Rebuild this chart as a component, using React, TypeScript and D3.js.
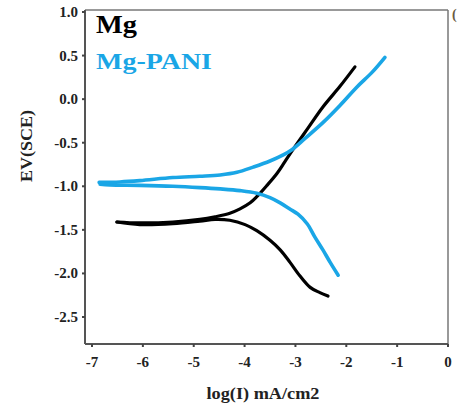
import React from "react";
import * as d3 from "d3";

const xTicks = [-7, -6, -5, -4, -3, -2, -1, 0];
const yTicks = [1.0, 0.5, 0.0, -0.5, -1.0, -1.5, -2.0, -2.5];

// Mg: cathodic branch (from high current back to Ecorr)
const mgCathLogI = [-2.36, -2.52, -2.71, -2.91, -3.11, -3.30, -3.50, -3.76, -3.99, -4.29, -4.58, -4.88, -5.41, -6.06, -6.51];
const mgCathE = [-2.26, -2.22, -2.16, -2.03, -1.87, -1.73, -1.62, -1.51, -1.44, -1.39, -1.38, -1.40, -1.43, -1.44, -1.41];
// Mg: anodic branch
const mgAnLogI = [-6.51, -6.06, -5.41, -4.88, -4.58, -4.29, -4.09, -3.89, -3.76, -3.56, -3.36, -3.21, -3.05, -2.75, -2.46, -2.12, -1.83];
const mgAnE = [-1.41, -1.42, -1.41, -1.38, -1.35, -1.31, -1.26, -1.19, -1.12, -0.99, -0.85, -0.72, -0.58, -0.33, -0.09, 0.15, 0.37];

// Mg-PANI: cathodic branch
const paniCathLogI = [-2.16, -2.32, -2.46, -2.62, -2.77, -2.95, -3.11, -3.30, -3.50, -3.76, -4.09, -4.48, -4.88, -5.41, -6.06, -6.65, -6.84];
const paniCathE = [-2.02, -1.87, -1.73, -1.58, -1.43, -1.32, -1.26, -1.19, -1.13, -1.08, -1.05, -1.03, -1.015, -1.0, -0.99, -0.985, -0.975];
// Mg-PANI: anodic branch
const paniAnLogI = [-6.86, -6.45, -6.06, -5.41, -4.88, -4.48, -4.15, -3.83, -3.50, -3.24, -3.07, -2.81, -2.46, -2.12, -1.79, -1.49, -1.24];
const paniAnE = [-0.955, -0.95, -0.935, -0.90, -0.885, -0.87, -0.84, -0.78, -0.71, -0.64, -0.58, -0.45, -0.27, -0.07, 0.14, 0.31, 0.48];

const seriesNames = ["Mg", "Mg-PANI"];
const colors = ["#000000", "#1aa6e6"];

export default function App() {
  const left = 85, right = 448, top = 10, bottom = 344;
  const x = d3.scaleLinear().domain([-7.138, 0]).range([left, right]);
  const y = d3.scaleLinear().domain([1.0, -2.5]).range([12, 317]);
  const line = d3
    .line<[number, number]>()
    .x((d) => x(d[0]))
    .y((d) => y(d[1]))
    .curve(d3.curveCatmullRom.alpha(0.5));
  const zip = (a: number[], b: number[]) => a.map((v, i) => [v, b[i]] as [number, number]);
  const font = "'Liberation Serif', 'Times New Roman', serif";

  const paths = [
    { d: line(zip(mgCathLogI, mgCathE)), c: colors[0], w: 3.2 },
    { d: line(zip(mgAnLogI, mgAnE)), c: colors[0], w: 3.2 },
    { d: line(zip(paniCathLogI, paniCathE)), c: colors[1], w: 3.6 },
    { d: line(zip(paniAnLogI, paniAnE)), c: colors[1], w: 3.6 },
  ];

  return (
    <svg width={458} height={410} style={{ position: "absolute", left: 0, top: 0, background: "#fff" }}>
      <rect x={0} y={0} width={458} height={410} fill="#fff" />
      {/* frame */}
      <line x1={left} y1={top} x2={right} y2={top} stroke="#777" strokeWidth={1.5} />
      <line x1={right} y1={top} x2={right} y2={bottom} stroke="#777" strokeWidth={1.5} />
      <line x1={left} y1={top} x2={left} y2={bottom} stroke="#555" strokeWidth={2} />
      <line x1={left} y1={bottom} x2={right} y2={bottom} stroke="#555" strokeWidth={2} />
      {/* y ticks */}
      {yTicks.map((t) => (
        <g key={"y" + t}>
          <line x1={left - 3} x2={left} y1={y(t)} y2={y(t)} stroke="#444" strokeWidth={2} />
          <text x={78} y={y(t) + 5} textAnchor="end" fontFamily={font} fontWeight="bold" fontSize={15} fill="#222">
            {t.toFixed(1)}
          </text>
        </g>
      ))}
      {/* x ticks */}
      {xTicks.map((t) => (
        <g key={"x" + t}>
          <line x1={x(t)} x2={x(t)} y1={bottom} y2={bottom + 3} stroke="#444" strokeWidth={2} />
          <text x={x(t)} y={367} textAnchor="middle" fontFamily={font} fontWeight="bold" fontSize={15} fill="#222">
            {String(t)}
          </text>
        </g>
      ))}
      {/* axis titles */}
      <text x={263} y={399} textAnchor="middle" fontFamily={font} fontWeight="bold" fontSize={17} fill="#222"
        textLength={113} lengthAdjust="spacingAndGlyphs">
        log(I) mA/cm2
      </text>
      <text transform="translate(32,146) rotate(-90)" textAnchor="middle" fontFamily={font} fontWeight="bold"
        fontSize={17} fill="#222" textLength={72} lengthAdjust="spacingAndGlyphs">
        EV(SCE)
      </text>
      <text x={452} y={19} fontFamily={font} fontWeight="bold" fontSize={14} fill="#6a5a40">(</text>
      {/* curves */}
      {paths.map((p, i) => (
        <path key={i} d={p.d || ""} fill="none" stroke={p.c} strokeWidth={p.w} strokeLinejoin="round" strokeLinecap="round" />
      ))}
      {/* legend */}
      <text x={96} y={33} fontFamily={font} fontWeight="bold" fontSize={25} fill={colors[0]}
        textLength={41} lengthAdjust="spacingAndGlyphs">{seriesNames[0]}</text>
      <text x={96} y={69} fontFamily={font} fontWeight="bold" fontSize={23} fill={colors[1]}
        textLength={116} lengthAdjust="spacingAndGlyphs">{seriesNames[1]}</text>
    </svg>
  );
}
